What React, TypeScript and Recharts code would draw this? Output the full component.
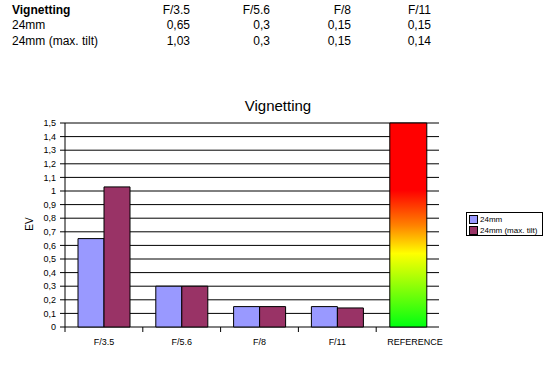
import React from 'react';
import { BarChart, Bar, XAxis, YAxis, CartesianGrid } from 'recharts';

const apertures = ['F/3.5', 'F/5.6', 'F/8', 'F/11'];
const referenceLabel = 'REFERENCE';
const seriesNames = ['24mm', '24mm (max. tilt)'];
const normalValues = [0.65, 0.3, 0.15, 0.15];
const tiltValues = [1.03, 0.3, 0.15, 0.14];
const referenceValue = 1.5;
const yTicks = [0, 0.1, 0.2, 0.3, 0.4, 0.5, 0.6, 0.7, 0.8, 0.9, 1, 1.1, 1.2, 1.3, 1.4, 1.5];

const BLUE = '#9999FF';
const PLUM = '#993366';
const FONT = '"Liberation Sans", Arial, sans-serif';

const data = [
    ...apertures.map((name, i) => ({ name, a: normalValues[i], b: tiltValues[i], scale: null })),
    { name: referenceLabel, a: null, b: null, scale: referenceValue },
];

const comma = (v: number) => String(v).replace('.', ',');

// tick mark sits on the category boundary, label in the middle (Excel style)
const CategoryTick = (props: any) => {
    const { x, y, payload } = props;
    const half = payload && payload.offset ? payload.offset : 38.9;
    return (
        <g>
            <line x1={x - half} x2={x - half} y1={y} y2={y + 5} stroke="#000" />
            <text x={x} y={y + 18} textAnchor="middle" fontSize={9} fill="#000" fontFamily={FONT}>
                {payload.value}
            </text>
        </g>
    );
};

const tableCell = (left: number, top: number, text: string, right = true, bold = false) => (
    <div
        key={`${left}-${top}`}
        style={{
            position: 'absolute',
            top,
            left: right ? undefined : left,
            right: right ? 553 - left : undefined,
            fontSize: 12,
            lineHeight: '16px',
            fontWeight: bold ? 'bold' : 'normal',
            whiteSpace: 'nowrap',
        }}
    >
        {text}
    </div>
);

export default function App() {
    const colRight = [190, 270, 351, 431];
    const rowTop = [2, 17, 33];
    return (
        <div style={{ position: 'absolute', left: 0, top: 0, width: 553, height: 375, background: '#fff', fontFamily: FONT, color: '#000' }}>
            {/* data table above the chart */}
            {tableCell(12, rowTop[0], 'Vignetting', false, true)}
            {tableCell(12, rowTop[1], seriesNames[0], false)}
            {tableCell(12, rowTop[2], seriesNames[1], false)}
            {apertures.map((a, i) => tableCell(colRight[i], rowTop[0], a))}
            {normalValues.map((v, i) => tableCell(colRight[i], rowTop[1], comma(v)))}
            {tiltValues.map((v, i) => tableCell(colRight[i], rowTop[2], comma(v)))}

            <div style={{ position: 'absolute', left: 0, top: 0 }}>
                <BarChart
                    width={553}
                    height={375}
                    data={data}
                    margin={{ top: 123, right: 99, bottom: 18, left: 25 }}
                    barGap={0}
                >
                    <defs>
                        <linearGradient id="refGrad" x1="0" y1="0" x2="0" y2="1">
                            <stop offset="0" stopColor="#FF0000" />
                            <stop offset="0.33" stopColor="#FF0000" />
                            <stop offset="0.5" stopColor="#FF8000" />
                            <stop offset="0.64" stopColor="#FFFF00" />
                            <stop offset="1" stopColor="#00FF11" />
                        </linearGradient>
                    </defs>
                    <text x={278} y={111} textAnchor="middle" fontSize={15} fontFamily={FONT} fill="#000">
                        Vignetting
                    </text>
                    <text
                        x={33}
                        y={224}
                        textAnchor="middle"
                        fontSize={10}
                        fontFamily={FONT}
                        fill="#000"
                        transform="rotate(-90 33 224)"
                    >
                        EV
                    </text>
                    <CartesianGrid vertical={false} stroke="#000" x={65} width={374} />
                    <XAxis
                        dataKey="name"
                        axisLine={false}
                        tickLine={false}
                        tickSize={0}
                        tickMargin={0}
                        interval={0}
                        tick={<CategoryTick />}
                    />
                    <XAxis dataKey="name" xAxisId="refAxis" hide padding={{ left: 0, right: 8 }} />
                    <YAxis
                        width={40}
                        domain={[0, 1.5]}
                        ticks={yTicks}
                        interval={0}
                        tickFormatter={comma}
                        axisLine={{ stroke: '#000' }}
                        tickLine={{ stroke: '#000' }}
                        tickSize={5}
                        tickMargin={4}
                        tick={{ fontSize: 9, fill: '#000', fontFamily: FONT }}
                    />
                    <Bar dataKey="a" name={seriesNames[0]} fill={BLUE} stroke="#000" barSize={26} isAnimationActive={false} />
                    <Bar dataKey="b" name={seriesNames[1]} fill={PLUM} stroke="#000" barSize={26} isAnimationActive={false} />
                    <Bar dataKey="scale" xAxisId="refAxis" fill="url(#refGrad)" stroke="#000" barSize={37} isAnimationActive={false} />
                </BarChart>
            </div>

            {/* legend box */}
            <div
                style={{
                    position: 'absolute',
                    left: 466,
                    top: 212,
                    width: 77,
                    height: 24,
                    border: '1px solid #000',
                    fontSize: 8,
                    lineHeight: '11px',
                    padding: '1px 0 0 2px',
                    boxSizing: 'border-box',
                }}
            >
                {seriesNames.map((n, i) => (
                    <div key={n} style={{ display: 'flex', alignItems: 'center', height: 11 }}>
                        <span
                            style={{
                                display: 'inline-block',
                                width: 7,
                                height: 7,
                                border: '1px solid #000',
                                background: i === 0 ? BLUE : PLUM,
                                marginRight: 2,
                            }}
                        />
                        <span style={{ whiteSpace: 'nowrap' }}>{n}</span>
                    </div>
                ))}
            </div>
        </div>
    );
}
